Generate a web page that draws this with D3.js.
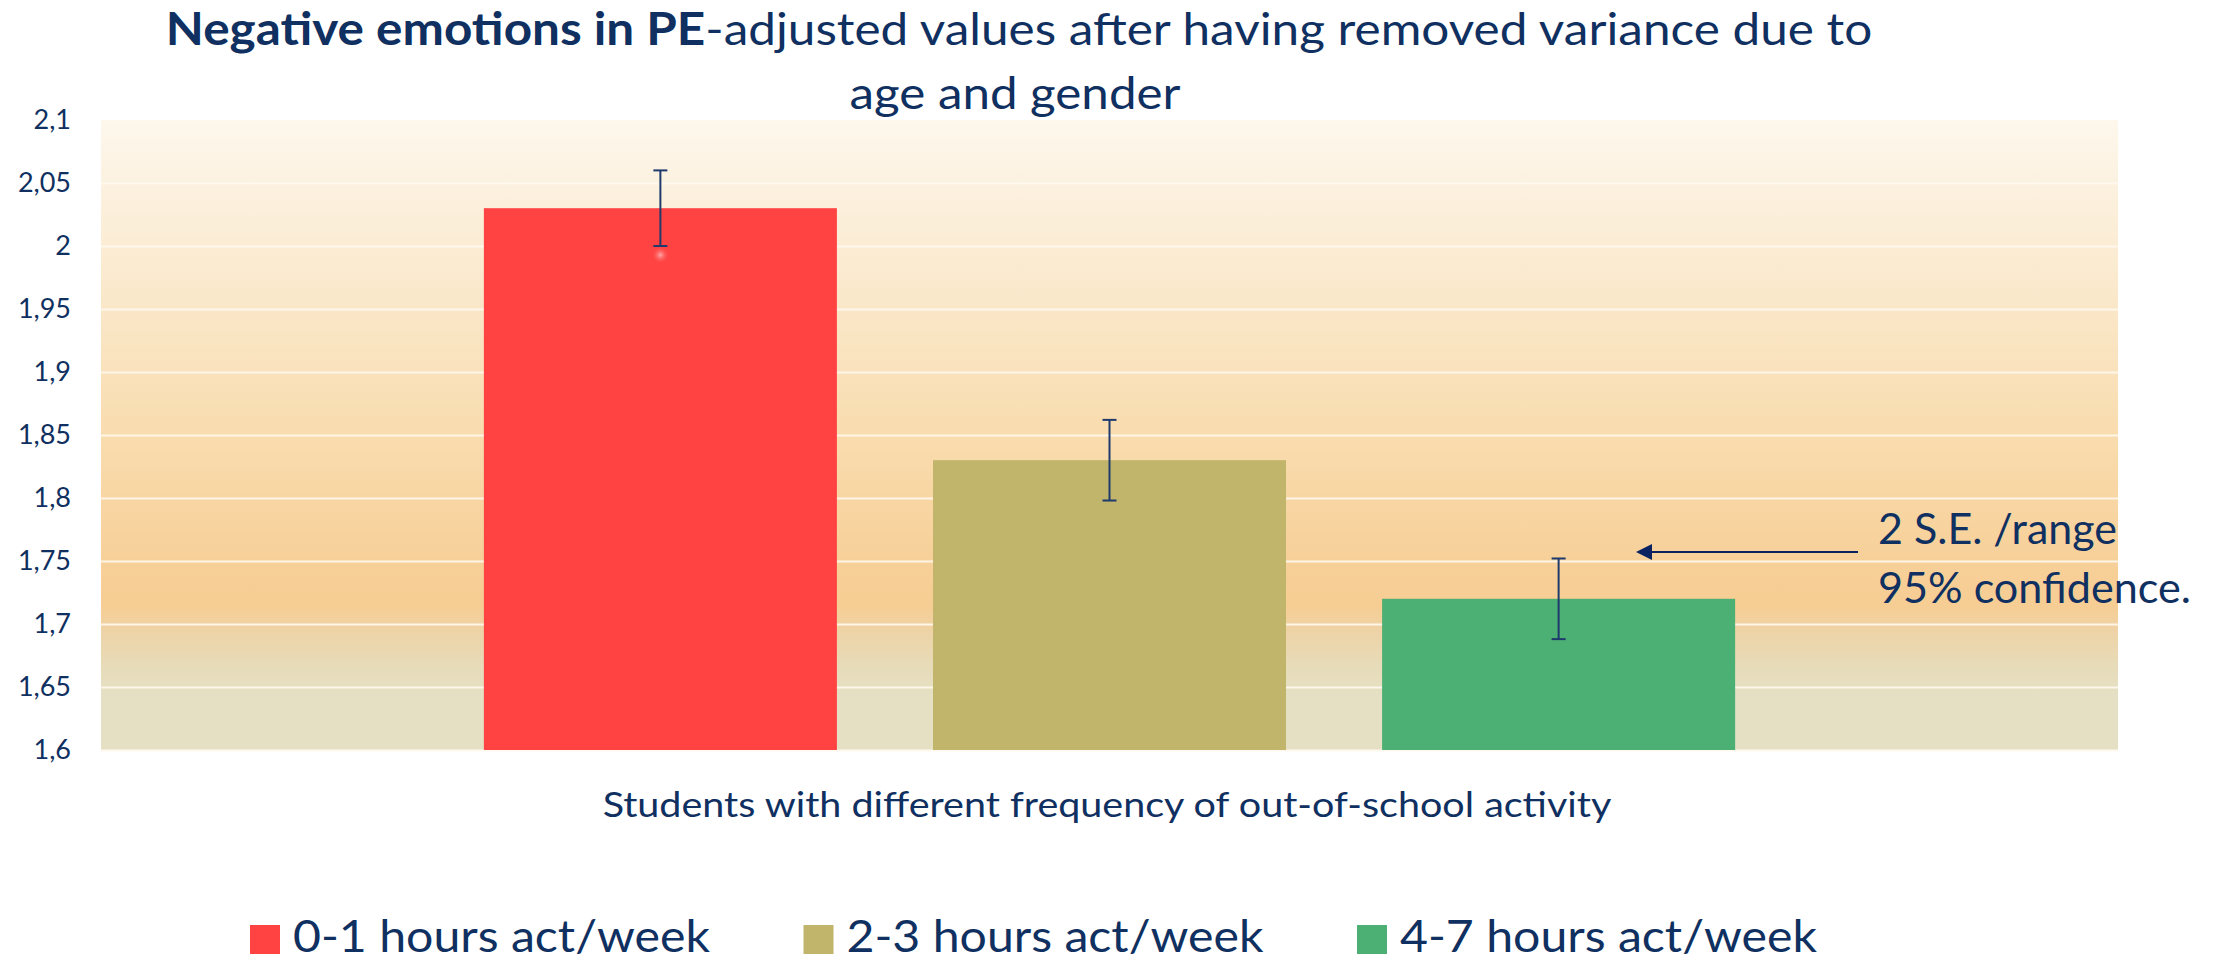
<!DOCTYPE html>
<html>
<head>
<meta charset="utf-8">
<script src="https://cdn.jsdelivr.net/npm/d3@7"></script>
<style>
  html, body { margin: 0; padding: 0; background: #fff; }
  svg { display: block; }
  text { font-family: Lato, "Open Sans", sans-serif; fill: #0f3060; }
</style>
</head>
<body>
<div id="chart"></div>
<script>
var width = 2228,
	height = 963;

// data
var category = 'Students with different frequency of out-of-school activity';
var seriesNames = ['0-1 hours act/week', '2-3 hours act/week', '4-7 hours act/week'];
var seriesValues = [2.03, 1.83, 1.72];
var seriesErrors = [0.03, 0.032, 0.032];
var seriesColors = ['#ff4242', '#c1b46b', '#4caf73'];
var yTicks = [1.6, 1.65, 1.7, 1.75, 1.8, 1.85, 1.9, 1.95, 2, 2.05, 2.1];

var margin = {top: 120, right: 110, bottom: 213, left: 101};
var plotW = width - margin.left - margin.right,
	plotH = height - margin.top - margin.bottom;

var svg = d3.select('#chart').append('svg')
	.attr('width', width)
	.attr('height', height);

var defs = svg.append('defs');
var grad = defs.append('linearGradient')
	.attr('id', 'bg')
	.attr('x1', 0).attr('y1', 0).attr('x2', 0).attr('y2', 1);
[[0, '#fdf7ec'], [0.3, '#fae7c8'], [0.5, '#f9dcae'], [0.7, '#f7d099'],
 [0.77, '#f6cd93'], [0.81, '#eed3a6'], [0.87, '#e7dcba'], [0.91, '#e5e0c3'], [1, '#e5e0c3']]
	.forEach(function(s) {
		grad.append('stop').attr('offset', s[0]).attr('stop-color', s[1]);
	});

var glow = defs.append('radialGradient').attr('id', 'glow');
glow.append('stop').attr('offset', 0).attr('stop-color', '#ffb3b3').attr('stop-opacity', 0.9);
glow.append('stop').attr('offset', 1).attr('stop-color', '#ff4242').attr('stop-opacity', 0);

var y = d3.scaleLinear()
	.domain([1.6, 2.1])
	.range([margin.top + plotH, margin.top]);

var x0 = d3.scaleBand()
	.domain([category])
	.range([margin.left, margin.left + plotW])
	.paddingInner(0)
	.paddingOuter(0.306);

var x1 = d3.scaleBand()
	.domain(seriesNames)
	.range([0, x0.bandwidth()])
	.paddingInner(0.214)
	.paddingOuter(0);

// plot background
svg.append('rect')
	.attr('x', margin.left)
	.attr('y', margin.top)
	.attr('width', plotW)
	.attr('height', plotH)
	.attr('fill', 'url(#bg)');

// grid
svg.append('g')
	.attr('class', 'grid')
	.attr('transform', 'translate(' + margin.left + ',0)')
	.call(d3.axisLeft(y).tickValues(yTicks.slice(0, -1)).tickSize(-plotW).tickFormat(''))
	.call(function(g) {
		g.select('.domain').remove();
		g.selectAll('line')
			.attr('stroke', '#fff8ee')
			.attr('stroke-width', 2)
			.attr('stroke-opacity', 0.9);
	});

// y axis labels
svg.append('g')
	.attr('transform', 'translate(' + (margin.left - 30) + ',0)')
	.call(d3.axisLeft(y).tickValues(yTicks).tickSize(0).tickPadding(0)
		.tickFormat(function(d) { return String(d).replace('.', ','); }))
	.call(function(g) {
		g.select('.domain').remove();
		g.selectAll('text')
			.style('font-size', '27px')
			.attr('fill', '#0f3060');
	});

var rows = seriesNames.map(function(n, i) {
	return {name: n, value: seriesValues[i], err: seriesErrors[i], color: seriesColors[i]};
});

var bars = svg.append('g')
	.attr('transform', 'translate(' + x0(category) + ',0)');

bars.selectAll('rect.bar')
	.data(rows)
	.enter()
	.append('rect')
	.classed('bar', true)
	.attr('x', function(d) { return x1(d.name); })
	.attr('y', function(d) { return y(d.value); })
	.attr('width', x1.bandwidth())
	.attr('height', function(d) { return y(1.6) - y(d.value); })
	.attr('fill', function(d) { return d.color; });

// small highlight below the first error bar
bars.append('circle')
	.attr('cx', x1(rows[0].name) + x1.bandwidth() / 2)
	.attr('cy', y(rows[0].value - rows[0].err) + 9)
	.attr('r', 9)
	.attr('fill', 'url(#glow)');

var eb = bars.selectAll('g.err')
	.data(rows)
	.enter()
	.append('g')
	.classed('err', true)
	.attr('transform', function(d) { return 'translate(' + (x1(d.name) + x1.bandwidth() / 2) + ',0)'; })
	.attr('stroke', '#1f3a6c')
	.attr('stroke-width', 2);

eb.append('line')
	.attr('y1', function(d) { return y(d.value + d.err); })
	.attr('y2', function(d) { return y(d.value - d.err); });
eb.append('line')
	.attr('x1', -7).attr('x2', 7)
	.attr('y1', function(d) { return y(d.value + d.err); })
	.attr('y2', function(d) { return y(d.value + d.err); });
eb.append('line')
	.attr('x1', -7).attr('x2', 7)
	.attr('y1', function(d) { return y(d.value - d.err); })
	.attr('y2', function(d) { return y(d.value - d.err); });

// fit a text node to a target width by horizontal scaling around its anchor
function fitWidth(sel, target, ax) {
	var w = sel.node().getComputedTextLength();
	var s = target / w;
	sel.attr('transform', 'translate(' + ax + ',0) scale(' + s + ',1) translate(' + (-ax) + ',0)');
}

// title
var t1 = svg.append('text')
	.attr('x', 1019)
	.attr('y', 45)
	.attr('text-anchor', 'middle')
	.style('font-size', '45px');
t1.append('tspan').attr('font-weight', 'bold').text('Negative emotions in PE');
t1.append('tspan').text('-adjusted values after having removed variance due to');
fitWidth(t1, 1707, 1019);

var t2 = svg.append('text')
	.attr('x', 1015)
	.attr('y', 109)
	.attr('text-anchor', 'middle')
	.style('font-size', '45px')
	.text('age and gender');
fitWidth(t2, 331, 1015);

// x axis title
var xt = svg.append('text')
	.attr('x', 1107)
	.attr('y', 817)
	.attr('text-anchor', 'middle')
	.style('font-size', '34px')
	.text(category);
fitWidth(xt, 1009, 1107);

// annotation
svg.append('line')
	.attr('x1', 1858).attr('x2', 1650)
	.attr('y1', 552).attr('y2', 552)
	.attr('stroke', '#0b2260')
	.attr('stroke-width', 2);
svg.append('path')
	.attr('d', d3.line()([[1636, 552], [1652, 544], [1652, 560]]))
	.attr('fill', '#0b2260');

var a1 = svg.append('text')
	.attr('x', 1878).attr('y', 544)
	.style('font-size', '43px')
	.text('2 S.E. /range');
fitWidth(a1, 239, 1878);
var a2 = svg.append('text')
	.attr('x', 1878).attr('y', 603)
	.style('font-size', '43px')
	.text('95% confidence.');
fitWidth(a2, 313, 1878);

// legend
var legend = svg.append('g').attr('class', 'legend');
var item = legend.selectAll('g')
	.data(rows)
	.enter()
	.append('g')
	.attr('transform', function(d, i) { return 'translate(' + (250 + i * 553.5) + ',0)'; });
item.append('rect')
	.attr('y', 925)
	.attr('width', 30)
	.attr('height', 29)
	.attr('fill', function(d) { return d.color; });
item.append('text')
	.attr('x', 43)
	.attr('y', 952)
	.style('font-size', '45px')
	.text(function(d) { return d.name; })
	.each(function() { fitWidth(d3.select(this), 417, 43); });
</script>
</body>
</html>
